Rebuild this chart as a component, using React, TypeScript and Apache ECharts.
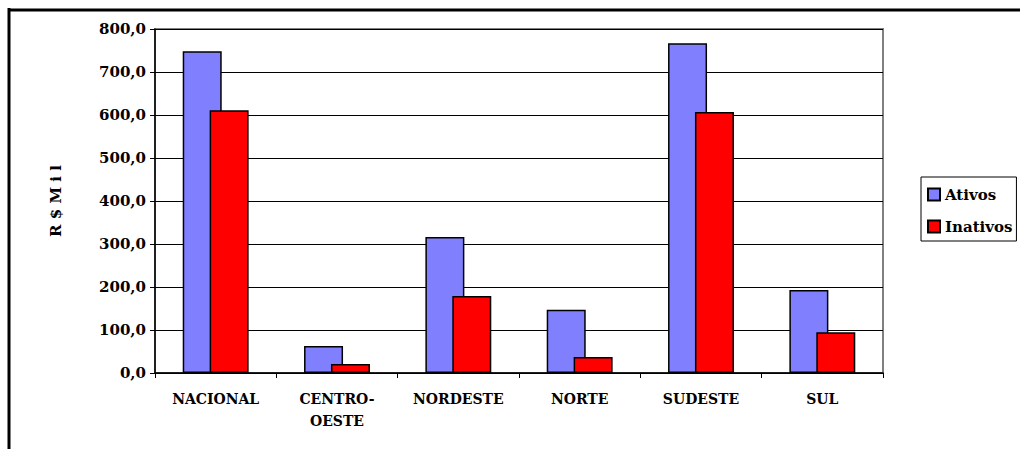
import React, { useEffect, useRef } from "react";
import * as echarts from "echarts";

const categories = ["NACIONAL", "CENTRO-\nOESTE", "NORDESTE", "NORTE", "SUDESTE", "SUL"];
const ativos = [748, 63, 316, 147, 767, 193];
const inativos = [611, 21, 179, 37, 607, 95];
const yTicks = { min: 0, max: 800, interval: 100 };

const FONT = "DejaVu Serif";

export default function App() {
  const ref = useRef<HTMLDivElement>(null);
  useEffect(() => {
    if (!ref.current) return;
    const chart = echarts.init(ref.current, null, { renderer: "svg" });
    chart.setOption({
      animation: false,
      backgroundColor: "#ffffff",
      textStyle: { fontFamily: FONT },
      graphic: [
        { type: "line", shape: { x1: 8, y1: 10, x2: 1020, y2: 10 }, style: { stroke: "#000", lineWidth: 3 } },
        { type: "line", shape: { x1: 9, y1: 8, x2: 9, y2: 449 }, style: { stroke: "#000", lineWidth: 3 } },
      ],
      grid: {
        left: 155,
        top: 29,
        right: 137,
        bottom: 76,
        show: true,
        borderColor: "#808080",
        borderWidth: 2,
        backgroundColor: "transparent",
      },
      legend: {
        orient: "vertical",
        left: 921,
        top: 177,
        padding: [10, 4, 7, 6],
        itemGap: 17,
        itemWidth: 12,
        itemHeight: 12,
        icon: "rect",
        borderColor: "#000",
        borderWidth: 1,
        textStyle: { fontFamily: FONT, fontWeight: "bold", fontSize: 15, color: "#000" },
        data: ["Ativos", "Inativos"],
      },
      xAxis: {
        type: "category",
        data: categories,
        axisLine: { lineStyle: { color: "#000", width: 1.5 } },
        axisTick: { show: true, length: 5, lineStyle: { color: "#000" } },
        axisLabel: {
          interval: 0,
          margin: 15,
          fontFamily: FONT,
          fontWeight: "bold",
          fontSize: 14,
          lineHeight: 22,
          color: "#000",
        },
      },
      yAxis: {
        type: "value",
        min: yTicks.min,
        max: yTicks.max,
        interval: yTicks.interval,
        name: "R $ M i l",
        nameLocation: "middle",
        nameGap: 92,
        nameRotate: 90,
        nameTextStyle: { fontFamily: FONT, fontWeight: "bold", fontSize: 15, color: "#000" },
        axisLine: { show: true, lineStyle: { color: "#000", width: 1.5 } },
        axisTick: { show: true, length: 5, lineStyle: { color: "#000" } },
        splitLine: { show: true, lineStyle: { color: "#000", width: 1 } },
        axisLabel: {
          margin: 9,
          fontFamily: FONT,
          fontWeight: "bold",
          fontSize: 15,
          color: "#000",
          formatter: (v: number) => v.toFixed(1).replace(".", ","),
        },
      },
      series: [
        {
          name: "Ativos",
          type: "bar",
          data: ativos,
          barWidth: 39,
          barGap: "-31%",
          itemStyle: { color: "#8080FF", borderColor: "#000", borderWidth: 1.5 },
        },
        {
          name: "Inativos",
          type: "bar",
          data: inativos,
          barWidth: 39,
          barGap: "-31%",
          itemStyle: { color: "#FF0000", borderColor: "#000", borderWidth: 1.5 },
        },
      ],
    });
    return () => chart.dispose();
  }, []);
  return (
    <div
      ref={ref}
      style={{ position: "absolute", left: 0, top: 0, width: 1020, height: 449 }}
    />
  );
}
